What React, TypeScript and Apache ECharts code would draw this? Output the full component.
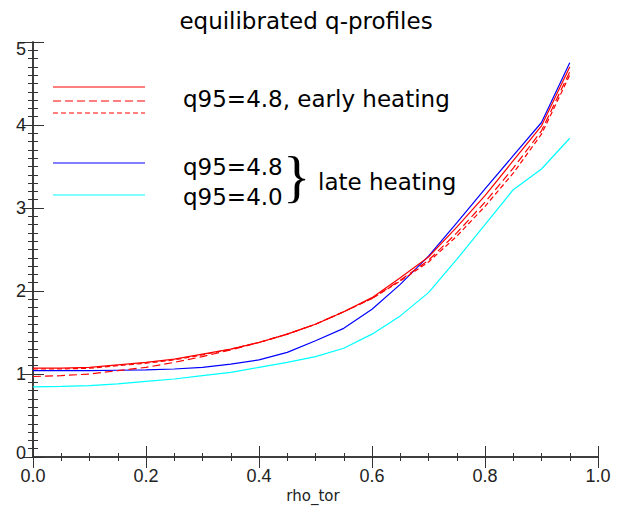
import React, { useEffect, useRef } from "react";
import * as echarts from "echarts";

const rho = [0, 0.05, 0.1, 0.15, 0.2, 0.25, 0.3, 0.35, 0.4, 0.45, 0.5, 0.55, 0.6, 0.65, 0.7, 0.75, 0.8, 0.85, 0.9, 0.95];

// q95=4.8, early heating (three variants)
const earlySolid = [1.07, 1.07, 1.08, 1.11, 1.14, 1.18, 1.24, 1.30, 1.38, 1.48, 1.60, 1.75, 1.92, 2.16, 2.41, 2.77, 3.15, 3.57, 3.99, 4.70];
const earlyDashed = [0.97, 0.98, 1.00, 1.04, 1.08, 1.14, 1.21, 1.29, 1.38, 1.48, 1.60, 1.75, 1.91, 2.13, 2.37, 2.70, 3.07, 3.48, 3.93, 4.64];
const earlyDotted = [1.06, 1.06, 1.07, 1.10, 1.13, 1.17, 1.23, 1.30, 1.38, 1.48, 1.60, 1.75, 1.91, 2.12, 2.35, 2.66, 3.02, 3.42, 3.89, 4.60];
// late heating
const late48 = [1.04, 1.04, 1.04, 1.045, 1.05, 1.06, 1.08, 1.12, 1.17, 1.26, 1.40, 1.55, 1.78, 2.08, 2.42, 2.82, 3.23, 3.63, 4.03, 4.75];
const late40 = [0.845, 0.85, 0.86, 0.88, 0.91, 0.94, 0.98, 1.02, 1.08, 1.14, 1.21, 1.31, 1.48, 1.70, 1.98, 2.38, 2.80, 3.22, 3.47, 3.84];

const xTicks = { min: 0, max: 1, interval: 0.2 };
const yTicks = { min: 0, max: 5, interval: 1 };

const pair = (ys: number[]) => rho.map((r, i) => [r, ys[i]]);

export default function App() {
  const ref = useRef<HTMLDivElement>(null);
  useEffect(() => {
    if (!ref.current) return;
    const chart = echarts.init(ref.current, undefined, { renderer: "svg" });
    const axisLine = { show: true, lineStyle: { color: "#333", width: 1.5 } };
    const labelFont = { fontFamily: "Liberation Sans", fontSize: 18, color: "#222" };
    const txtFont = "DejaVu Sans";
    const tick = (len: number) => ({ show: true, inside: true, length: len, lineStyle: { color: "#333", width: 1 } });
    const minor = (n: number, len: number) => ({ show: true, splitNumber: n, length: len, lineStyle: { color: "#333", width: 1 } });
    const base = { type: "value", splitLine: { show: false }, minorSplitLine: { show: false } };
    const mk = (name: string, ys: number[], color: string, type: any) => ({
      name,
      type: "line",
      data: pair(ys),
      showSymbol: false,
      symbol: "none",
      lineStyle: { color, width: 1.2, type },
      xAxisIndex: 0,
      yAxisIndex: 0,
    });
    chart.setOption({
      animation: false,
      backgroundColor: "#fff",
      grid: { left: 33, right: 28, top: 42, bottom: 49, containLabel: false, outerBoundsMode: "none" },
      xAxis: [
        {
          ...base,
          ...xTicks,
          position: "bottom",
          axisLine,
          axisTick: tick(11),
          minorTick: minor(4, 4),
          axisLabel: { ...labelFont, margin: 10, formatter: (v: number) => v.toFixed(1) },
        },
        { ...base, ...xTicks, position: "top", axisLine, axisTick: tick(11), minorTick: minor(4, 4), axisLabel: { show: false } },
      ],
      yAxis: [
        {
          ...base,
          ...yTicks,
          position: "left",
          axisLine,
          axisTick: tick(11),
          minorTick: minor(10, 5),
          axisLabel: {
            ...labelFont,
            margin: 7,
            formatter: (v: number) => (v === 0 ? "{lo|0}" : v === 5 ? "{hi|5}" : String(v)),
            rich: {
              lo: { ...labelFont, padding: [0, 0, 9, 0] },
              hi: { ...labelFont, padding: [13, 0, 0, 0] },
            },
          },
        },
        { ...base, ...yTicks, position: "right", axisLine, axisTick: tick(11), minorTick: minor(10, 5), axisLabel: { show: false } },
      ],
      series: [
        mk("q95=4.8 late", late48, "#0000ff", "solid"),
        mk("q95=4.0 late", late40, "#00ffff", "solid"),
        mk("early dotted", earlyDotted, "#ff0000", [5, 3]),
        mk("early dashed", earlyDashed, "#ff0000", [8, 4]),
        mk("early solid", earlySolid, "#ff0000", "solid"),
      ],
      graphic: [
        {
          type: "text",
          x: 306,
          y: 21,
          style: { text: "equilibrated q-profiles", fontFamily: txtFont, fontSize: 23, fill: "#000", align: "center", verticalAlign: "middle" },
        },
        {
          type: "text",
          x: 313,
          y: 496,
          style: { text: "rho_tor", fontFamily: txtFont, fontSize: 15, fill: "#222", align: "center", verticalAlign: "middle" },
        },
        { type: "line", shape: { x1: 53, y1: 87, x2: 145, y2: 87 }, style: { stroke: "#ff0000", lineWidth: 1.2 } },
        { type: "line", shape: { x1: 53, y1: 101, x2: 145, y2: 101 }, style: { stroke: "#ff0000", lineWidth: 1.2, lineDash: [8, 4] } },
        { type: "line", shape: { x1: 53, y1: 113, x2: 145, y2: 113 }, style: { stroke: "#ff0000", lineWidth: 1.2, lineDash: [5, 3] } },
        { type: "line", shape: { x1: 53, y1: 163, x2: 145, y2: 163 }, style: { stroke: "#0000ff", lineWidth: 1.2 } },
        { type: "line", shape: { x1: 53, y1: 195, x2: 145, y2: 195 }, style: { stroke: "#00ffff", lineWidth: 1.2 } },
        {
          type: "text",
          x: 183,
          y: 99,
          style: { text: "q95=4.8, early heating", fontFamily: txtFont, fontSize: 23, fill: "#000", align: "left", verticalAlign: "middle" },
        },
        {
          type: "text",
          x: 183,
          y: 167,
          style: { text: "q95=4.8", fontFamily: txtFont, fontSize: 23, fill: "#000", align: "left", verticalAlign: "middle" },
        },
        {
          type: "text",
          x: 183,
          y: 197,
          style: { text: "q95=4.0", fontFamily: txtFont, fontSize: 23, fill: "#000", align: "left", verticalAlign: "middle" },
        },
        {
          type: "text",
          x: 283,
          y: 176,
          style: { text: "}", fontFamily: "Liberation Serif", fontSize: 57, fill: "#000", align: "left", verticalAlign: "middle" },
        },
        {
          type: "text",
          x: 318,
          y: 182,
          style: { text: "late heating", fontFamily: txtFont, fontSize: 23, fill: "#000", align: "left", verticalAlign: "middle" },
        },
      ],
    });
    return () => chart.dispose();
  }, []);
  return <div ref={ref} style={{ width: 626, height: 506, position: "absolute", left: 0, top: 0 }} />;
}
